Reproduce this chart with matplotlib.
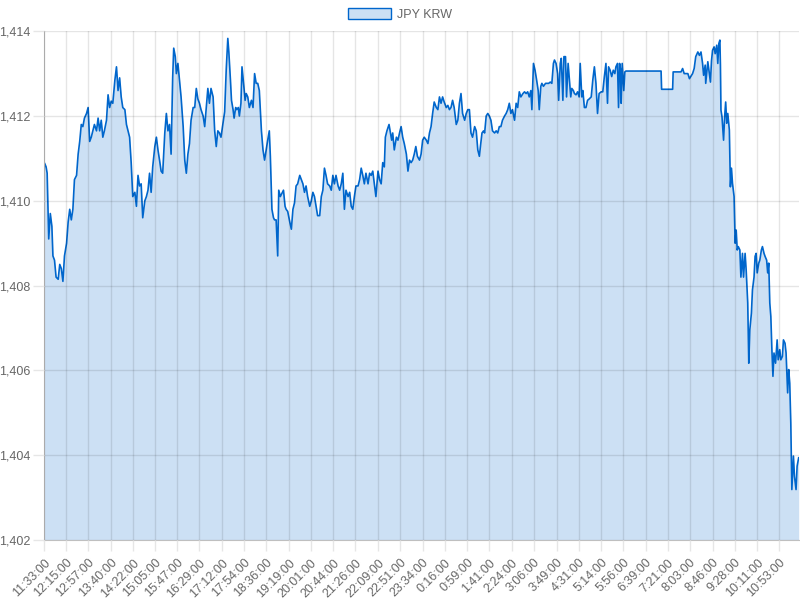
import numpy as np
import matplotlib
matplotlib.use("Agg")
import matplotlib.pyplot as plt

# JPY/KRW quotes, minutes after 11:33:00
minutes = [
    0, 1, 4, 6, 9, 12, 15, 17, 20, 23, 27, 30, 33, 36, 39, 43, 46, 49, 52, 55,
    58, 62, 65, 68, 71, 74, 77, 81, 84, 87, 90, 93, 96, 100, 103, 106, 109, 112, 115, 119,
    122, 125, 128, 131, 135, 138, 141, 144, 147, 150, 154, 157, 160, 163, 166, 169, 173, 176, 179, 182,
    185, 188, 192, 195, 198, 201, 204, 207, 211, 214, 217, 220, 223, 226, 230, 233, 236, 239, 242, 245,
    247, 250, 252, 255, 258, 261, 265, 268, 271, 274, 277, 280, 284, 287, 290, 293, 296, 299, 303, 306,
    309, 312, 315, 318, 322, 325, 328, 331, 334, 337, 340, 344, 347, 350, 352, 355, 357, 360, 362, 365,
    367, 370, 372, 375, 377, 380, 383, 385, 388, 391, 395, 398, 401, 404, 407, 410, 414, 417, 420, 423,
    426, 429, 431, 434, 437, 439, 442, 445, 447, 450, 454, 456, 459, 461, 464, 468, 471, 474, 477, 480,
    483, 487, 490, 493, 496, 499, 502, 506, 509, 512, 515, 518, 521, 525, 528, 531, 534, 537, 540, 544,
    547, 550, 553, 556, 560, 563, 566, 569, 572, 575, 579, 582, 585, 588, 591, 594, 598, 601, 604, 607,
    610, 613, 617, 620, 623, 626, 629, 632, 636, 639, 642, 645, 648, 650, 653, 657, 659, 662, 664, 667,
    671, 674, 677, 680, 683, 686, 690, 693, 696, 699, 702, 705, 708, 711, 715, 718, 721, 724, 728, 731,
    734, 737, 740, 743, 747, 750, 753, 756, 759, 762, 766, 769, 772, 775, 778, 781, 785, 788, 791, 794,
    797, 801, 804, 807, 810, 813, 816, 820, 823, 826, 829, 831, 834, 837, 839, 842, 845, 848, 851, 854,
    858, 861, 864, 867, 870, 873, 877, 880, 883, 886, 889, 892, 896, 899, 902, 905, 908, 912, 915, 918,
    921, 924, 927, 929, 932, 935, 938, 941, 943, 946, 948, 951, 955, 958, 961, 964, 967, 970, 972, 975,
    978, 980, 983, 985, 988, 990, 993, 995, 998, 1000, 1003, 1005, 1008, 1010, 1013, 1016, 1019, 1021, 1024, 1026,
    1029, 1032, 1035, 1038, 1042, 1045, 1048, 1051, 1054, 1057, 1061, 1064, 1067, 1070, 1073, 1075, 1078, 1081, 1084, 1087,
    1089, 1092, 1094, 1096, 1098, 1099, 1101, 1104, 1106, 1108, 1175, 1176, 1197, 1198, 1213, 1216, 1219, 1222, 1226, 1229,
    1232, 1235, 1238, 1241, 1245, 1248, 1251, 1254, 1256, 1259, 1260, 1264, 1267, 1269, 1271, 1273, 1276, 1278, 1281, 1283,
    1285, 1287, 1288, 1289, 1291, 1294, 1296, 1298, 1300, 1302, 1305, 1307, 1309, 1311, 1314, 1316, 1318, 1320, 1322, 1325,
    1327, 1330, 1332, 1335, 1337, 1340, 1342, 1344, 1347, 1349, 1352, 1354, 1356, 1358, 1361, 1363, 1366, 1368, 1371, 1373,
    1376, 1378, 1380, 1382, 1384, 1386, 1388, 1390, 1393, 1396, 1398, 1401, 1403, 1406, 1408, 1411, 1413, 1416, 1418, 1420,
    1422, 1424, 1427, 1429, 1432, 1434, 1437,
]
rates = [
    1410.7, 1410.89, 1410.8, 1410.65, 1409.1, 1409.7, 1409.4, 1408.7, 1408.6, 1408.2, 1408.15, 1408.5, 1408.4, 1408.1, 1408.7, 1409.0, 1409.5, 1409.8, 1409.55, 1409.8,
    1410.5, 1410.6, 1411.1, 1411.4, 1411.8, 1411.75, 1411.95, 1412.06, 1412.2, 1411.4, 1411.5, 1411.65, 1411.8, 1411.65, 1411.95, 1411.65, 1411.9, 1411.5, 1411.65, 1411.9,
    1412.5, 1412.2, 1412.35, 1412.3, 1412.85, 1413.16, 1412.6, 1412.9, 1412.45, 1412.2, 1412.15, 1411.8, 1411.65, 1411.5, 1410.9, 1410.1, 1410.2, 1409.87, 1410.6, 1410.35,
    1410.4, 1409.6, 1410.0, 1410.1, 1410.25, 1410.65, 1410.2, 1410.8, 1411.28, 1411.5, 1411.2, 1410.96, 1410.7, 1410.65, 1411.6, 1412.06, 1411.65, 1411.8, 1411.1, 1412.9,
    1413.6, 1413.4, 1413.0, 1413.24, 1412.85, 1412.45, 1411.75, 1410.96, 1410.65, 1411.1, 1411.35, 1411.9, 1412.2, 1412.2, 1412.65, 1412.4, 1412.3, 1412.15, 1412.0, 1411.75,
    1412.2, 1412.65, 1412.3, 1412.65, 1412.45, 1411.65, 1411.28, 1411.65, 1411.6, 1411.5, 1411.75, 1412.1, 1413.1, 1413.83, 1413.5, 1412.85, 1412.37, 1412.15, 1411.95, 1412.2,
    1412.15, 1412.2, 1412.0, 1412.3, 1413.16, 1412.77, 1412.37, 1412.53, 1412.45, 1412.2, 1412.37, 1412.2, 1413.0, 1412.77, 1412.77, 1412.6, 1411.65, 1411.2, 1410.96, 1411.2,
    1411.43, 1411.65, 1411.05, 1409.8, 1409.6, 1409.55, 1409.55, 1408.7, 1410.25, 1410.1, 1410.2, 1410.25, 1409.87, 1409.8, 1409.75, 1409.5, 1409.33, 1409.8, 1409.95, 1410.35,
    1410.4, 1410.6, 1410.5, 1410.4, 1410.2, 1410.35, 1410.1, 1409.87, 1410.0, 1410.2, 1410.1, 1409.87, 1409.65, 1409.65, 1410.1, 1410.25, 1410.77, 1410.6, 1410.4, 1410.35,
    1410.25, 1410.6, 1410.4, 1410.6, 1410.35, 1410.25, 1410.4, 1410.65, 1409.8, 1410.25, 1410.1, 1410.2, 1409.87, 1409.8, 1410.1, 1410.35, 1410.35, 1410.5, 1410.77, 1410.6,
    1410.4, 1410.65, 1410.4, 1410.65, 1410.6, 1410.7, 1410.4, 1410.1, 1410.7, 1410.5, 1410.4, 1410.9, 1410.8, 1411.5, 1411.65, 1411.8, 1411.65, 1411.43, 1411.6, 1411.2,
    1411.5, 1411.43, 1411.6, 1411.75, 1411.5, 1411.35, 1411.1, 1410.7, 1410.96, 1410.9, 1410.96, 1411.1, 1411.28, 1411.05, 1410.96, 1411.1, 1411.43, 1411.5, 1411.43, 1411.35,
    1411.6, 1411.75, 1412.06, 1412.33, 1412.2, 1412.15, 1412.45, 1412.3, 1412.45, 1412.33, 1412.2, 1412.25, 1412.15, 1412.2, 1412.37, 1412.2, 1411.8, 1411.9, 1412.3, 1412.53,
    1412.06, 1411.9, 1412.06, 1412.15, 1412.15, 1411.6, 1411.5, 1411.75, 1411.65, 1411.2, 1411.05, 1411.28, 1411.6, 1411.65, 1411.6, 1412.0, 1412.06, 1412.0, 1411.9, 1411.65,
    1411.6, 1411.65, 1411.6, 1411.75, 1411.75, 1411.9, 1412.0, 1412.06, 1412.15, 1412.3, 1412.06, 1412.15, 1411.9, 1412.3, 1412.2, 1412.57, 1412.45, 1412.53, 1412.57, 1412.53,
    1412.57, 1412.45, 1412.6, 1412.15, 1413.24, 1413.08, 1412.85, 1412.6, 1412.15, 1412.7, 1412.77, 1412.7, 1412.77, 1412.77, 1412.77, 1412.8, 1412.77, 1413.24, 1413.32, 1413.24,
    1413.0, 1412.37, 1413.24, 1413.36, 1412.37, 1413.4, 1413.4, 1412.45, 1413.24, 1412.93, 1412.45, 1412.65, 1412.6, 1412.53, 1412.5, 1412.57, 1412.45, 1413.24, 1412.45, 1412.6,
    1412.2, 1412.2, 1412.37, 1412.4, 1412.45, 1412.85, 1413.16, 1412.77, 1412.06, 1412.53, 1412.57, 1412.57, 1412.93, 1413.24, 1412.3, 1413.16, 1413.08, 1412.93, 1413.08, 1413.0,
    1413.16, 1413.24, 1412.2, 1413.24, 1413.08, 1412.3, 1413.24, 1412.6, 1413.04, 1413.06, 1413.06, 1412.63, 1412.63, 1413.04, 1413.04, 1413.12, 1413.0, 1413.0, 1413.0, 1412.88,
    1412.94, 1413.0, 1413.12, 1413.4, 1413.51, 1413.43, 1413.51, 1413.24, 1412.96, 1413.2, 1412.77, 1413.28, 1413.0, 1412.8, 1413.3, 1413.55, 1413.63, 1413.47, 1413.67, 1413.24,
    1413.71, 1413.79, 1413.2, 1412.14, 1411.98, 1411.43, 1411.98, 1412.33, 1411.83, 1412.06, 1411.67, 1410.33, 1410.77, 1410.41, 1410.1, 1409.0, 1409.31, 1408.84, 1408.92, 1408.84,
    1408.2, 1408.76, 1408.2, 1408.76, 1408.37, 1407.59, 1406.17, 1406.96, 1407.35, 1407.9, 1408.2, 1408.69, 1408.76, 1408.3, 1408.53, 1408.6, 1408.84, 1408.92, 1408.76, 1408.69,
    1408.6, 1408.3, 1408.53, 1407.59, 1407.27, 1406.49, 1405.86, 1406.41, 1406.17, 1406.72, 1406.25, 1406.49, 1406.25, 1406.33, 1406.72, 1406.64, 1406.41, 1405.47, 1406.02, 1405.7,
    1404.76, 1403.19, 1403.98, 1403.5, 1403.19, 1403.74, 1403.94,
]
time_labels = [
    "11:33:00", "12:15:00", "12:57:00", "13:40:00", "14:22:00", "15:05:00", "15:47:00",
    "16:29:00", "17:12:00", "17:54:00", "18:36:00", "19:19:00", "20:01:00", "20:44:00",
    "21:26:00", "22:09:00", "22:51:00", "23:34:00", "0:16:00", "0:59:00", "1:41:00",
    "2:24:00", "3:06:00", "3:49:00", "4:31:00", "5:14:00", "5:56:00", "6:39:00",
    "7:21:00", "8:03:00", "8:46:00", "9:28:00", "10:11:00", "10:53:00",
]
y_ticks = [1402, 1404, 1406, 1408, 1410, 1412, 1414]
end_minute = 1438


def to_offset(label):
    h, m, _ = (int(p) for p in label.split(":"))
    off = h * 60 + m - (11 * 60 + 33)
    return off + 1440 if off < 0 else off


tick_pos = [to_offset(t) for t in time_labels]

plt.rcParams["font.family"] = ["Liberation Sans", "DejaVu Sans"]
line_color = "#0066cc"
fill_color = (0, 0.4, 0.8, 0.2)
text_color = "#666666"

fig = plt.figure(figsize=(8, 6), dpi=100)
ax = fig.add_axes([0.055, 0.1, 0.944, 0.848])

ax.fill_between(minutes, rates, 1402, color=fill_color, linewidth=0)
ax.plot(minutes, rates, color=line_color, linewidth=1.2, label="JPY KRW")

ax.set_xlim(0, end_minute)
ax.set_ylim(1402, 1414)
ax.set_yticks(y_ticks)
ax.set_yticklabels([f"{v:,}" for v in y_ticks])
ax.set_xticks(tick_pos)
ax.set_xticklabels(time_labels, rotation=45, ha="right", rotation_mode="anchor")

ax.set_axisbelow(False)
ax.grid(True, color="black", alpha=0.1, linewidth=1)
ax.tick_params(axis="both", color="#e6e6e6", labelcolor=text_color, labelsize=9,
               length=8, width=1, pad=2)
ax.tick_params(axis="x", pad=4)
for side in ("top", "right"):
    ax.spines[side].set_visible(False)
for side in ("left", "bottom"):
    ax.spines[side].set_color("#bfbfbf")

handle = plt.Rectangle((0, 0), 1, 1, facecolor=fill_color,
                       edgecolor=line_color, linewidth=1)
fig.legend([handle], ["JPY KRW"], loc="upper center", bbox_to_anchor=(0.5, 1.005),
           frameon=False, fontsize=9, labelcolor=text_color, handlelength=3.4,
           handleheight=1.0, handletextpad=0.5)

fig.savefig("out.png", dpi=100)
